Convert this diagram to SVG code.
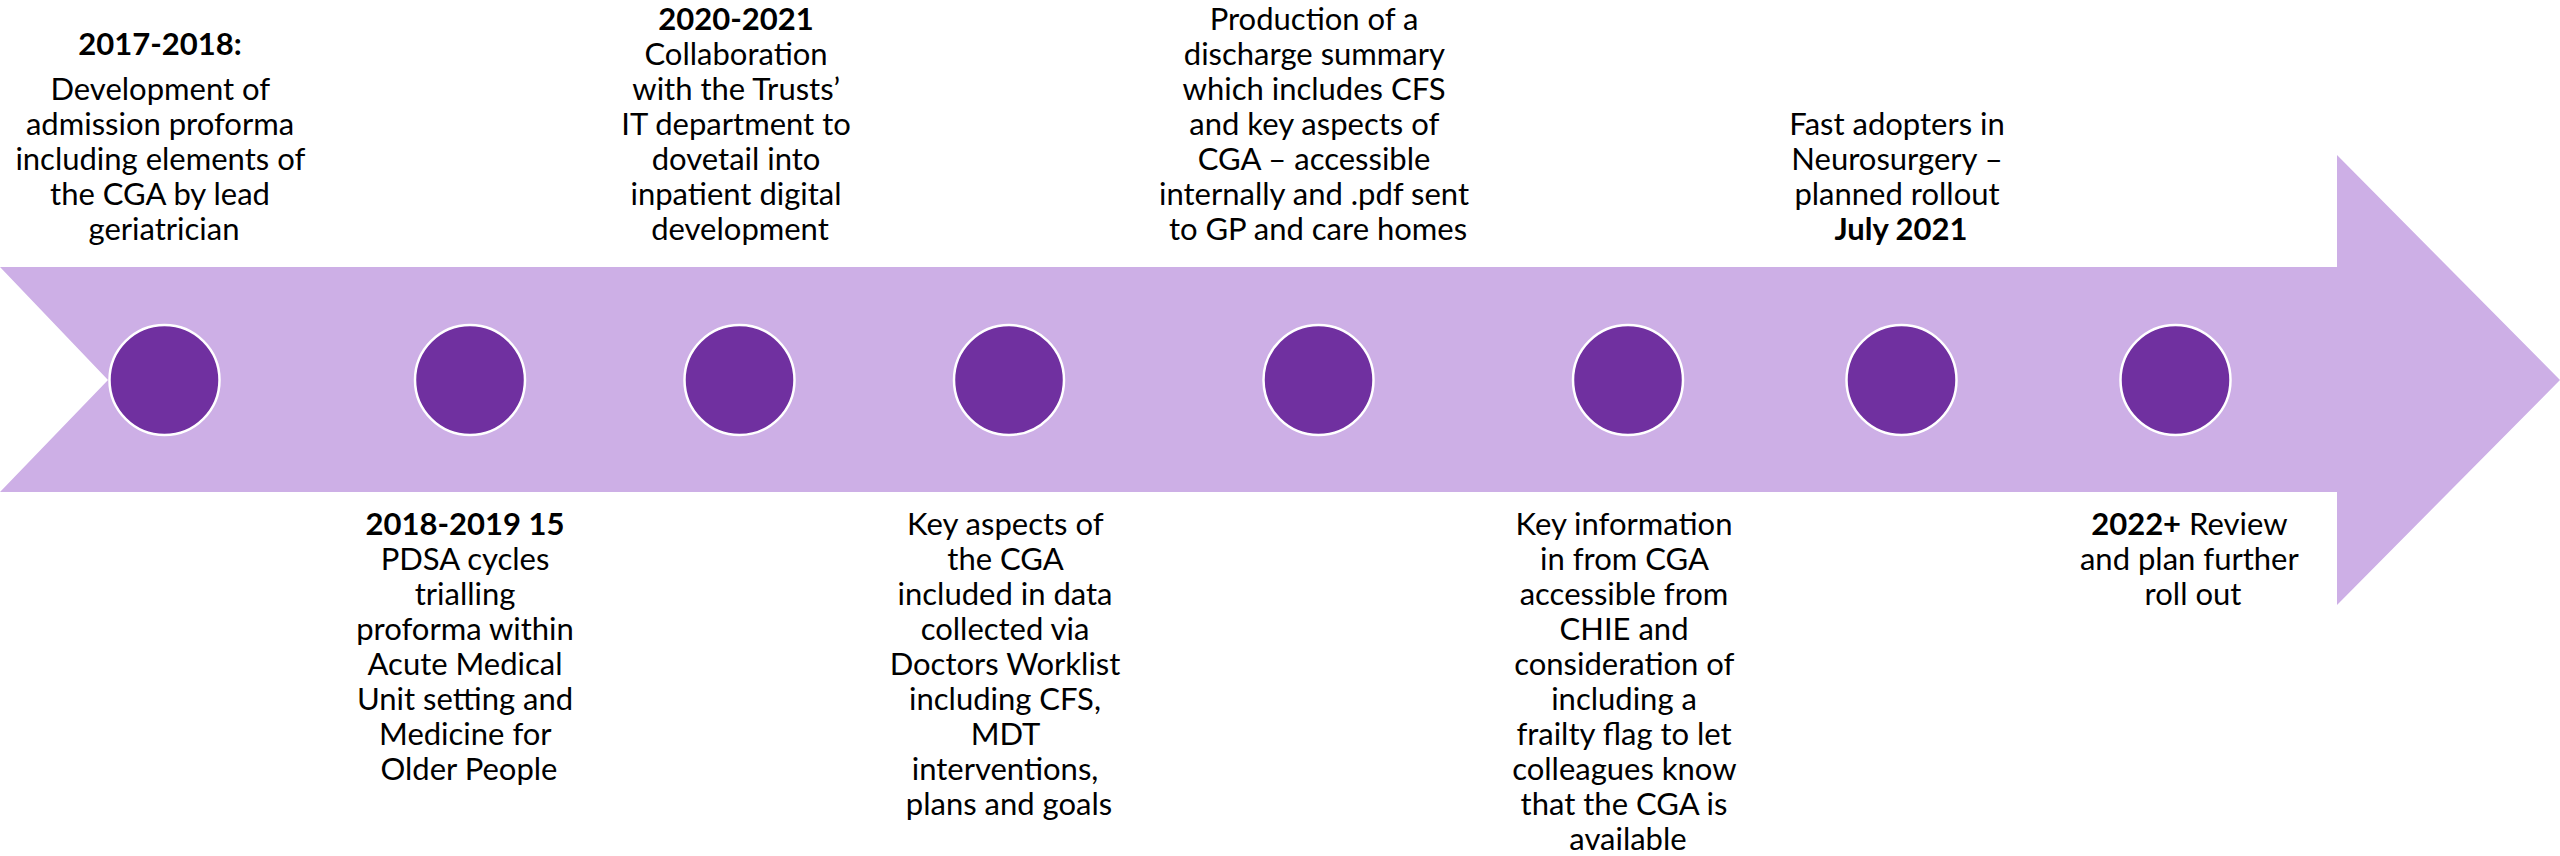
<svg xmlns="http://www.w3.org/2000/svg" width="2560" height="856" viewBox="0 0 2560 856">
  <style>
    .band { fill: #CDAFE6; }
    .dot { fill: #7030A0; stroke: #FFFFFF; stroke-width: 2.5; }
    .lbl { font-family: Lato, "Liberation Sans", sans-serif; font-size: 31px; fill: #000000; text-anchor: middle; }
    .b { font-weight: bold; }
  </style>

  <rect width="2560" height="856" fill="#FFFFFF"/>

  <!-- timeline arrow: notched tail on the left, head on the right -->
  <g id="timeline-arrow">
    <polygon class="band" points="0,267 2337,267 2337,155 2560,380 2337,605 2337,492 0,492 108,380"/>
  </g>

  <!-- milestone markers -->
  <g id="markers">
    <circle class="dot" cx="164.5" cy="380" r="55"/>
    <circle class="dot" cx="470" cy="380" r="55"/>
    <circle class="dot" cx="739.5" cy="380" r="55"/>
    <circle class="dot" cx="1009" cy="380" r="55"/>
    <circle class="dot" cx="1318.5" cy="380" r="55"/>
    <circle class="dot" cx="1628" cy="380" r="55"/>
    <circle class="dot" cx="1901.5" cy="380" r="55"/>
    <circle class="dot" cx="2175.5" cy="380" r="55"/>
  </g>

  <g id="connectors"></g>

  <g id="m1-2017">
    <text class="lbl">
      <tspan class="b" x="164" y="55">2017-2018:</tspan>
      <tspan x="164" y="100">Development of</tspan>
      <tspan x="164" y="135">admission proforma</tspan>
      <tspan x="164" y="170">including elements of</tspan>
      <tspan x="164" y="205">the CGA by lead</tspan>
      <tspan x="164" y="240">geriatrician</tspan>
    </text>
  </g>

  <g id="m2-2018">
    <text class="lbl">
      <tspan class="b" x="469" y="535">2018-2019 15</tspan>
      <tspan x="469" y="570">PDSA cycles</tspan>
      <tspan x="469" y="605">trialling</tspan>
      <tspan x="469" y="640">proforma within</tspan>
      <tspan x="469" y="675">Acute Medical</tspan>
      <tspan x="469" y="710">Unit setting and</tspan>
      <tspan x="469" y="745">Medicine for</tspan>
      <tspan x="469" y="780">Older People</tspan>
    </text>
  </g>

  <g id="m3-2020">
    <text class="lbl">
      <tspan class="b" x="740" y="30">2020-2021</tspan>
      <tspan x="740" y="65">Collaboration</tspan>
      <tspan x="740" y="100">with the Trusts’</tspan>
      <tspan x="740" y="135">IT department to</tspan>
      <tspan x="740" y="170">dovetail into</tspan>
      <tspan x="740" y="205">inpatient digital</tspan>
      <tspan x="740" y="240">development</tspan>
    </text>
  </g>

  <g id="m4-worklist">
    <text class="lbl">
      <tspan x="1009" y="535">Key aspects of</tspan>
      <tspan x="1009" y="570">the CGA</tspan>
      <tspan x="1009" y="605">included in data</tspan>
      <tspan x="1009" y="640">collected via</tspan>
      <tspan x="1009" y="675">Doctors Worklist</tspan>
      <tspan x="1009" y="710">including CFS,</tspan>
      <tspan x="1009" y="745">MDT</tspan>
      <tspan x="1009" y="780">interventions,</tspan>
      <tspan x="1009" y="815">plans and goals</tspan>
    </text>
  </g>

  <g id="m5-discharge">
    <text class="lbl">
      <tspan x="1318" y="30">Production of a</tspan>
      <tspan x="1318" y="65">discharge summary</tspan>
      <tspan x="1318" y="100">which includes CFS</tspan>
      <tspan x="1318" y="135">and key aspects of</tspan>
      <tspan x="1318" y="170">CGA – accessible</tspan>
      <tspan x="1318" y="205">internally and .pdf sent</tspan>
      <tspan x="1318" y="240">to GP and care homes</tspan>
    </text>
  </g>

  <g id="m6-chie">
    <text class="lbl">
      <tspan x="1628" y="535">Key information</tspan>
      <tspan x="1628" y="570">in from CGA</tspan>
      <tspan x="1628" y="605">accessible from</tspan>
      <tspan x="1628" y="640">CHIE and</tspan>
      <tspan x="1628" y="675">consideration of</tspan>
      <tspan x="1628" y="710">including a</tspan>
      <tspan x="1628" y="745">frailty flag to let</tspan>
      <tspan x="1628" y="780">colleagues know</tspan>
      <tspan x="1628" y="815">that the CGA is</tspan>
      <tspan x="1628" y="850">available</tspan>
    </text>
  </g>

  <g id="m7-neurosurgery">
    <text class="lbl">
      <tspan x="1901" y="135">Fast adopters in</tspan>
      <tspan x="1901" y="170">Neurosurgery –</tspan>
      <tspan x="1901" y="205">planned rollout</tspan>
      <tspan class="b" x="1901" y="240">July 2021</tspan>
    </text>
  </g>

  <g id="m8-2022">
    <text class="lbl">
      <tspan x="2193" y="535"><tspan class="b">2022+</tspan> Review</tspan>
      <tspan x="2193" y="570">and plan further</tspan>
      <tspan x="2193" y="605">roll out</tspan>
    </text>
  </g>
</svg>
